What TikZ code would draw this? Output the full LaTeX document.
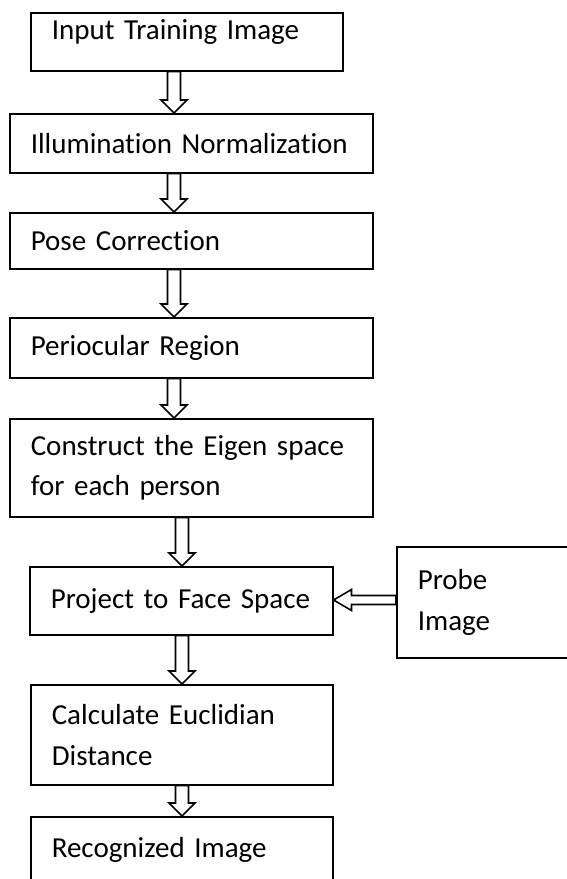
\documentclass[tikz,border=0pt]{standalone}
\usepackage{fontspec}
\setmainfont{Carlito}[Ligatures=NoCommon]
\usetikzlibrary{calc}

% boxes of the flow and the hollow block arrows between them
\tikzset{
  stage/.style={draw, line width=0.9pt, anchor=north west, align=left,
    inner xsep=0.42cm, inner ysep=0pt,
    font=\fontsize{16.5pt}{23.3pt}\selectfont},
  hollow/.style n args={3}{draw, line width=0.9pt, to path={
    ($(\tikztostart)!#1!90:(\tikztotarget)$)
    -- ($($(\tikztotarget)!#3!(\tikztostart)$)!#1!90:(\tikztotarget)$)
    -- ($($(\tikztotarget)!#3!(\tikztostart)$)!#2!90:(\tikztotarget)$)
    -- (\tikztotarget)
    -- ($($(\tikztotarget)!#3!(\tikztostart)$)!#2!-90:(\tikztotarget)$)
    -- ($($(\tikztotarget)!#3!(\tikztostart)$)!#1!-90:(\tikztotarget)$)
    -- ($(\tikztostart)!#1!-90:(\tikztotarget)$) -- cycle}},
  flow down/.style={hollow={0.13cm}{0.26cm}{0.26cm}},
  flow left/.style={hollow={0.09cm}{0.21cm}{0.36cm}},
}

\begin{document}
\begin{tikzpicture}[x=0.02cm, y=-0.02cm]
  \useasboundingbox (0,0) rectangle (567,879);
  \clip (0,0) rectangle (567,879);

  \node[stage, text width=5.40cm, minimum height=1.16cm,
        text height=0.36cm, text depth=0.44cm] (input) at (30,12) {Input Training Image};
  \node[stage, text width=6.42cm, minimum height=1.18cm] (illum) at (9,113) {Illumination Normalization};
  \node[stage, text width=6.42cm, minimum height=1.12cm] (pose) at (9,212) {Pose Correction};
  \node[stage, text width=6.42cm, minimum height=1.20cm] (perio) at (9,317) {Periocular Region};
  \node[stage, text width=6.42cm, minimum height=1.96cm] (eigen) at (9,418) {Construct the Eigen space\\for each person};
  \node[stage, text width=5.22cm, minimum height=1.36cm] (face) at (29,566) {Project to Face Space};
  \node[stage, text width=4.16cm, minimum height=2.22cm] (probe) at (396,546) {Probe\\Image};
  \node[stage, text width=5.20cm, minimum height=2.00cm] (dist) at (30,684) {Calculate Euclidian\\Distance};
  \node[stage, text width=5.20cm, minimum height=1.32cm] (result) at (30,816) {Recognized Image};

  % arrow columns
  \coordinate (colA) at (174,0);
  \coordinate (colB) at (182,0);
  \coordinate (rowP) at (0,600);

  \draw[flow down] (input.south -| colA) to (illum.north -| colA);
  \draw[flow down] (illum.south -| colA) to (pose.north -| colA);
  \draw[flow down] (pose.south -| colA) to (perio.north -| colA);
  \draw[flow down] (perio.south -| colA) to (eigen.north -| colA);
  \draw[flow down] (eigen.south -| colB) to (face.north -| colB);
  \draw[flow down] (face.south -| colB) to (dist.north -| colB);
  \draw[flow down] (dist.south -| colB) to (result.north -| colB);

  \draw[flow left] (probe.west |- rowP) to (face.east |- rowP);
\end{tikzpicture}
\end{document}
